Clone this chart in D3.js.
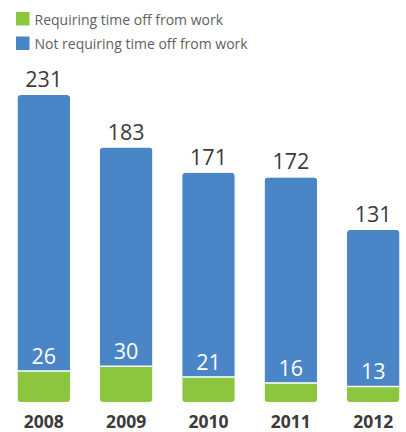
<!DOCTYPE html>
<html>
<head>
<meta charset="utf-8">
<script src="https://cdn.jsdelivr.net/npm/d3@7"></script>
<style>
  html, body { margin: 0; padding: 0; background: #fff; }
  svg { display: block; font-family: "Open Sans", "Noto Sans", sans-serif; }
</style>
</head>
<body>
<svg id="chart" width="406" height="432"></svg>
<script>
const years = ["2008", "2009", "2010", "2011", "2012"];
const requiringTimeOff = [26, 30, 21, 16, 13];
const notRequiringTimeOff = [231, 183, 171, 172, 131];
const seriesNames = ["Requiring time off from work", "Not requiring time off from work"];
const seriesColors = ["#8cc63f", "#4a86c7"];

const svg = d3.select("#chart");
const baseY = 402;

const x = d3.scaleBand()
  .domain(years)
  .range([17.5, 399.5])
  .paddingInner(0.362)
  .paddingOuter(0);

const y = d3.scaleLinear()
  .domain([0, 257])
  .range([baseY, 95]);

const rows = years.map((yr, i) => ({
  year: yr,
  low: requiringTimeOff[i],
  high: notRequiringTimeOff[i],
  total: requiringTimeOff[i] + notRequiringTimeOff[i]
}));

// clip each bar to a rounded rectangle so both ends get soft corners
const defs = svg.append("defs");
rows.forEach((d, i) => {
  defs.append("clipPath").attr("id", "clip" + i)
    .append("rect")
    .attr("x", x(d.year))
    .attr("y", y(d.total))
    .attr("width", x.bandwidth())
    .attr("height", baseY - y(d.total))
    .attr("rx", 3.5).attr("ry", 3.5);
});

const bars = svg.append("g").selectAll("g")
  .data(rows)
  .join("g")
  .attr("clip-path", (d, i) => `url(#clip${i})`);

bars.append("rect")
  .attr("x", d => x(d.year))
  .attr("y", d => y(d.total))
  .attr("width", x.bandwidth())
  .attr("height", d => y(d.low) - y(d.total))
  .attr("fill", seriesColors[1]);

bars.append("rect")
  .attr("x", d => x(d.year))
  .attr("y", d => y(d.low))
  .attr("width", x.bandwidth())
  .attr("height", d => baseY - y(d.low))
  .attr("fill", seriesColors[0]);

// thin white seam between the two segments
bars.append("line")
  .attr("x1", d => x(d.year))
  .attr("x2", d => x(d.year) + x.bandwidth())
  .attr("y1", d => y(d.low))
  .attr("y2", d => y(d.low))
  .attr("stroke", "#fff")
  .attr("stroke-width", 1.5);

const cx = d => x(d.year) + x.bandwidth() / 2;

// value of the upper segment above each bar
svg.append("g").selectAll("text")
  .data(rows)
  .join("text")
  .attr("x", cx)
  .attr("y", d => y(d.total) - 8)
  .attr("text-anchor", "middle")
  .attr("font-size", 21.5)
  .attr("fill", "#3b3b3b")
  .text(d => d.high);

// value of the lower segment, just above the seam
svg.append("g").selectAll("text")
  .data(rows)
  .join("text")
  .attr("x", cx)
  .attr("y", d => y(d.low) - 7)
  .attr("text-anchor", "middle")
  .attr("font-size", 21.5)
  .attr("fill", "#fff")
  .text(d => d.low);

// year labels
const xAxis = d3.axisBottom(x).tickSize(0).tickPadding(0);
const axisG = svg.append("g")
  .attr("transform", `translate(0,${baseY})`)
  .call(xAxis);
axisG.select(".domain").remove();
axisG.selectAll("text")
  .attr("dy", null)
  .attr("y", 26)
  .attr("font-family", "\"Open Sans\", \"Noto Sans\", sans-serif")
  .attr("font-size", 17.5)
  .attr("font-weight", "bold")
  .attr("fill", "#3b3b3b");

// legend
const legend = svg.append("g").selectAll("g")
  .data(seriesNames)
  .join("g")
  .attr("transform", (d, i) => `translate(16,${12 + i * 24.5})`);
legend.append("rect")
  .attr("width", 13.5).attr("height", 13.5)
  .attr("fill", (d, i) => seriesColors[i]);
legend.append("text")
  .attr("x", 18.5)
  .attr("y", 12.5)
  .attr("font-size", 14)
  .attr("fill", "#5f5f5f")
  .text(d => d);
</script>
</body>
</html>
